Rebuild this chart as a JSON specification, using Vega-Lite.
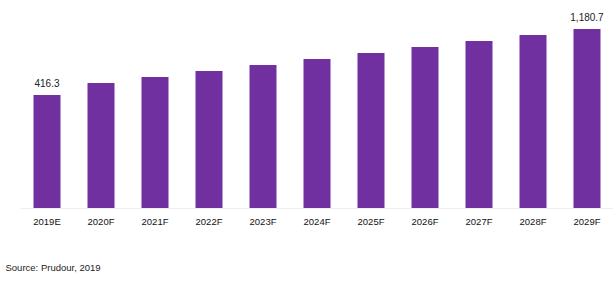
{
  "$schema": "https://vega.github.io/schema/vega-lite/v6.json",
  "width": 594,
  "height": 208,
  "padding": {"left": 20, "top": 0, "right": 0, "bottom": 74},
  "autosize": {"type": "none"},
  "background": "white",
  "config": {"view": {"stroke": null}, "font": "Liberation Sans"},
  "data": {
    "values": [
      {"year": "2019E", "value": 416.3},
      {"year": "2020F", "value": 555.3},
      {"year": "2021F", "value": 624.8},
      {"year": "2022F", "value": 694.3},
      {"year": "2023F", "value": 763.8},
      {"year": "2024F", "value": 833.3},
      {"year": "2025F", "value": 902.7},
      {"year": "2026F", "value": 972.2},
      {"year": "2027F", "value": 1041.7},
      {"year": "2028F", "value": 1111.2},
      {"year": "2029F", "value": 1180.7}
    ]
  },
  "encoding": {
    "x": {
      "field": "year",
      "type": "nominal",
      "sort": null,
      "scale": {"paddingInner": 0.5, "paddingOuter": 0.25},
      "axis": {
        "title": "Source: Prudour, 2019",
        "titleX": -15,
        "titleY": 59,
        "titleAlign": "left",
        "titleBaseline": "middle",
        "titleFontSize": 9.5,
        "titleFontWeight": "normal",
        "titleColor": "#222222",
        "labelAngle": 0,
        "labelFontSize": 9.5,
        "labelColor": "#111111",
        "labelBaseline": "alphabetic",
        "labelPadding": 16.5,
        "ticks": false,
        "tickSize": 0,
        "domainColor": "#eeeeee",
        "domainWidth": 1,
        "grid": false
      }
    },
    "y": {
      "field": "value",
      "type": "quantitative",
      "scale": {"domain": [-892.4, 1516.6], "nice": false, "zero": false},
      "axis": null
    }
  },
  "layer": [
    {
      "mark": {"type": "bar", "color": "#7030A0"},
      "encoding": {"y2": {"datum": -892.4}}
    },
    {
      "transform": [{"filter": "datum.year == '2019E' || datum.year == '2029F'"}],
      "mark": {"type": "text", "baseline": "alphabetic", "dy": -8, "fontSize": 10, "color": "#222222"},
      "encoding": {"text": {"field": "value", "type": "quantitative", "format": ",.1f"}}
    }
  ]
}
